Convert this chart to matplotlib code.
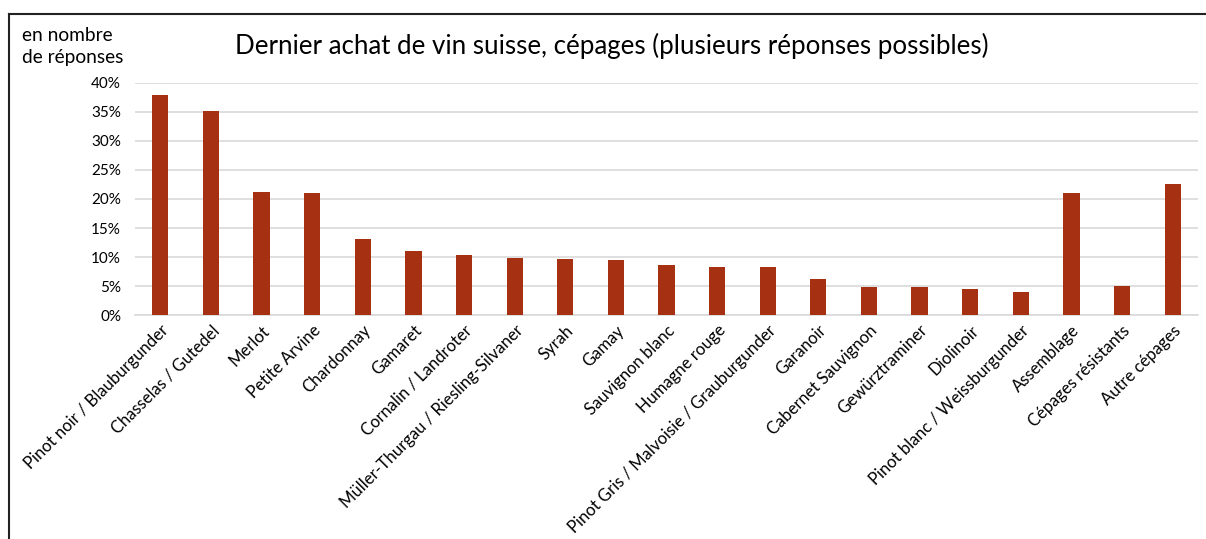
import matplotlib
matplotlib.use("Agg")
import matplotlib.pyplot as plt
from matplotlib.lines import Line2D
from matplotlib.ticker import FuncFormatter

categories = [
    "Pinot noir / Blauburgunder", "Chasselas / Gutedel", "Merlot", "Petite Arvine",
    "Chardonnay", "Gamaret", "Cornalin / Landroter", "Müller-Thurgau / Riesling-Silvaner",
    "Syrah", "Gamay", "Sauvignon blanc", "Humagne rouge",
    "Pinot Gris / Malvoisie / Grauburgunder", "Garanoir", "Cabernet Sauvignon",
    "Gewürztraminer", "Diolinoir", "Pinot blanc / Weissburgunder", "Assemblage",
    "Cépages résistants", "Autre cépages",
]
values = [37.8, 35.1, 21.2, 21.1, 13.1, 11.0, 10.3, 9.8, 9.6, 9.5, 8.6, 8.3,
          8.3, 6.2, 4.9, 4.9, 4.5, 4.0, 21.1, 5.0, 22.5]
y_ticks = [0, 5, 10, 15, 20, 25, 30, 35, 40]

title = "Dernier achat de vin suisse, cépages (plusieurs réponses possibles)"
y_note_lines = ["en nombre", "de réponses"]

FONT = ["Lato", "DejaVu Sans"]
plt.rcParams["font.family"] = FONT

W, H = 1206, 539
fig = plt.figure(figsize=(W / 100, H / 100), dpi=100)
ax = fig.add_axes([135 / W, 1 - 315.3 / H, (1198 - 135) / W, (315.3 - 82.7) / H])

x = list(range(len(categories)))
ax.bar(x, values, width=0.32, color="#A63012", zorder=3)
ax.set_xlim(-0.5, len(categories) - 0.5)
ax.set_ylim(0, 40)
ax.set_yticks(y_ticks)
ax.yaxis.set_major_formatter(FuncFormatter(lambda v, p: f"{v:.0f}%"))
ax.grid(axis="y", color="#d9d9d9", linewidth=1.2, zorder=0)
for s in ["top", "right", "left"]:
    ax.spines[s].set_visible(False)
ax.spines["bottom"].set_color("#d9d9d9")
ax.spines["bottom"].set_linewidth(1.2)
ax.tick_params(axis="both", length=0, colors="#000000")
ax.tick_params(axis="y", pad=10, labelsize=11)
ax.set_xticks(x)
ax.set_xticklabels(categories, rotation=45, ha="right", va="top",
                   rotation_mode="anchor", fontsize=12)
ax.tick_params(axis="x", pad=5)

fig.text(612 / W, 1 - 46 / H, title, ha="center", va="center", fontsize=18.6)
for line, yb in zip(y_note_lines, [41, 63]):
    fig.text(22 / W, 1 - yb / H, line, ha="left", va="baseline", fontsize=13.8)

# outer frame (top and left visible)
fig.add_artist(Line2D([9 / W, 1.0], [1 - 14 / H, 1 - 14 / H], color="#222222",
                      linewidth=1.5, transform=fig.transFigure))
fig.add_artist(Line2D([9 / W, 9 / W], [0, 1 - 14 / H], color="#222222",
                      linewidth=1.5, transform=fig.transFigure))

fig.savefig("out.png", dpi=100)
